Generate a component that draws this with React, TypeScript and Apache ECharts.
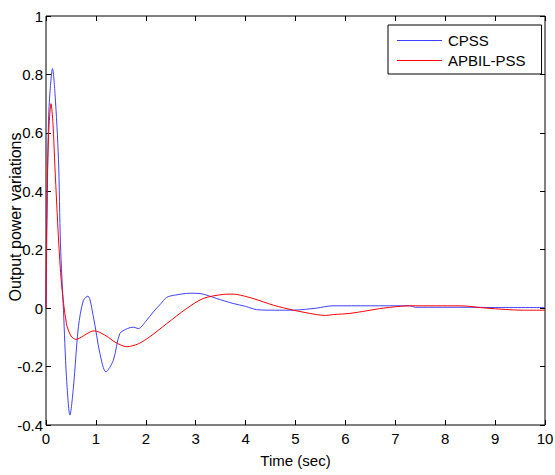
import React, { useEffect, useRef } from "react";
import * as echarts from "echarts";

const cpssTime = [0, 0.02, 0.05, 0.08, 0.13, 0.18, 0.25, 0.29, 0.35, 0.41, 0.48, 0.55, 0.65, 0.75, 0.84, 0.95, 1.08, 1.2, 1.35, 1.48, 1.63, 1.75, 1.85, 2.0, 2.15, 2.3, 2.42, 2.6, 2.89, 3.09, 3.25, 3.42, 3.75, 4.0, 4.22, 4.6, 4.96, 5.2, 5.42, 5.75, 6.5, 7.29, 7.4, 8.5, 9.0, 10];
const cpssValues = [0, 0.3, 0.64, 0.74, 0.82, 0.735, 0.51, 0.22, -0.007, -0.235, -0.366, -0.27, -0.064, 0.027, 0.041, -0.03, -0.155, -0.218, -0.178, -0.087, -0.07, -0.065, -0.07, -0.045, -0.013, 0.015, 0.037, 0.045, 0.051, 0.05, 0.043, 0.033, 0.016, 0.006, -0.005, -0.007, -0.007, -0.004, 0, 0.008, 0.008, 0.008, 0.003, 0.003, 0.002, 0.002];

const apbilTime = [0, 0.01, 0.03, 0.06, 0.1, 0.14, 0.18, 0.25, 0.31, 0.41, 0.5, 0.6, 0.75, 0.9, 0.98, 1.1, 1.25, 1.4, 1.62, 1.85, 2.08, 2.42, 2.82, 3.15, 3.55, 3.7, 3.82, 4.15, 4.56, 4.96, 5.42, 5.6, 5.76, 6.09, 6.43, 6.76, 7.29, 7.8, 8.3, 8.83, 9.57, 10];
const apbilValues = [0, 0.25, 0.47, 0.62, 0.7, 0.63, 0.48, 0.24, 0.085, -0.053, -0.095, -0.107, -0.095, -0.08, -0.078, -0.085, -0.1, -0.118, -0.132, -0.122, -0.098, -0.053, -0.001, 0.033, 0.047, 0.048, 0.047, 0.033, 0.01, -0.007, -0.022, -0.025, -0.022, -0.018, -0.009, 0, 0.008, 0.008, 0.008, 0, -0.007, -0.007];

const seriesNames = ["CPSS", "APBIL-PSS"];
const xTitle = "Time (sec)";
const yTitle = "Output power variations";

const FONT = "'Liberation Sans', Arial, sans-serif";

export default function App() {
  const ref = useRef<HTMLDivElement>(null);
  useEffect(() => {
    const chart = echarts.init(ref.current!, null, { renderer: "svg" });
    const pairs = (t: number[], v: number[]) => t.map((x, i) => [x, v[i]]);
    const tick = { show: true, inside: true, length: 5, lineStyle: { color: "#000" } };
    const hiddenAxis = {
      axisLine: { show: false, onZero: false },
      axisLabel: { show: false },
      splitLine: { show: false },
      axisTick: tick,
    };
    chart.setOption({
      animation: false,
      backgroundColor: "#fff",
      textStyle: { fontFamily: FONT },
      grid: {
        left: 46, right: 10, top: 16, bottom: 50,
        containLabel: false, outerBoundsMode: "none",
        show: true, borderColor: "#000", borderWidth: 1, backgroundColor: "transparent",
      },
      legend: {
        data: seriesNames,
        orient: "vertical",
        left: 388,
        top: 25,
        itemWidth: 45,
        itemHeight: 10,
        itemGap: 5,
        padding: [8, 16, 6, 9],
        borderColor: "#000",
        borderWidth: 1,
        backgroundColor: "#fff",
        icon: "path://M0,5L45,5L45,6L0,6Z",
        textStyle: { fontFamily: FONT, fontSize: 15, color: "#000", padding: [0, 0, 0, 1] },
      },
      xAxis: [
        {
          type: "value", min: 0, max: 10, interval: 1,
          name: xTitle, nameLocation: "middle", nameGap: 28, nameMoveOverlap: false,
          nameTextStyle: { fontFamily: FONT, fontSize: 15, color: "#000" },
          axisLine: { show: false, onZero: false },
          axisTick: tick,
          axisLabel: { fontFamily: FONT, fontSize: 15, color: "#000", margin: 6 },
          splitLine: { show: false },
        },
        { type: "value", position: "top", min: 0, max: 10, interval: 1, ...hiddenAxis },
      ],
      yAxis: [
        {
          type: "value", min: -0.4, max: 1, interval: 0.2,
          name: yTitle, nameLocation: "middle", nameGap: 23, nameMoveOverlap: false,
          nameTextStyle: { fontFamily: FONT, fontSize: 16, color: "#000", padding: [0, 0, 0, 7] },
          axisLine: { show: false, onZero: false },
          axisTick: tick,
          axisLabel: {
            fontFamily: FONT, fontSize: 15, color: "#000", margin: 3,
            formatter: (v: number) => String(Math.round(v * 10) / 10),
          },
          splitLine: { show: false },
        },
        { type: "value", position: "right", min: -0.4, max: 1, interval: 0.2, ...hiddenAxis },
      ],
      series: [
        {
          name: seriesNames[0], type: "line", data: pairs(cpssTime, cpssValues),
          showSymbol: false, symbol: "none", smooth: 0.3,
          lineStyle: { color: "#4040ff", width: 1 }, itemStyle: { color: "#4040ff" },
        },
        {
          name: seriesNames[1], type: "line", data: pairs(apbilTime, apbilValues),
          showSymbol: false, symbol: "none", smooth: 0.3,
          lineStyle: { color: "#ff0000", width: 1 }, itemStyle: { color: "#ff0000" },
        },
      ],
    });
    return () => chart.dispose();
  }, []);
  return <div ref={ref} style={{ width: 555, height: 475, position: "absolute", left: 0, top: 0 }} />;
}
